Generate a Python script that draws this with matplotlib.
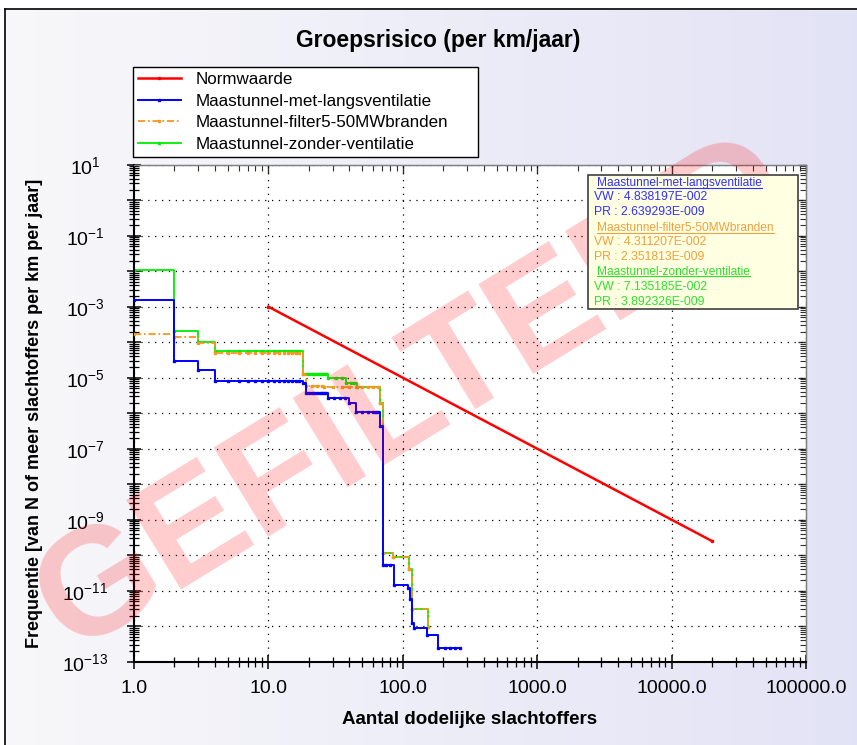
import numpy as np
import matplotlib
matplotlib.use('Agg')
import matplotlib.pyplot as plt
from matplotlib import ticker
from matplotlib.lines import Line2D
from matplotlib.patches import Rectangle

plt.rcParams['font.family'] = ['Liberation Sans', 'DejaVu Sans']
plt.rcParams['mathtext.fontset'] = 'custom'
plt.rcParams['mathtext.rm'] = 'Liberation Sans'
plt.rcParams['mathtext.it'] = 'Liberation Sans:italic'
plt.rcParams['mathtext.bf'] = 'Liberation Sans:bold'

# --- data (aantal slachtoffers N, frequentie F(N)) ---
norm_n = [10, 20000]
norm_f = [1.0e-3, 2.5e-10]

met_n = [1, 2, 3, 4, 5, 6, 7, 8, 9, 10, 11, 12, 13, 14, 15, 16, 17, 18,
         19, 20, 21, 22, 23, 24, 25, 26, 27, 28, 31, 34, 37, 40, 45, 50,
         55, 60, 63, 65, 68, 71, 75, 80, 86, 110, 113, 117, 121, 152, 183,
         206, 224, 244, 266]
met_f = [1.55e-3, 2.9e-5, 1.6e-5, 8.3e-6, 8.3e-6, 8.3e-6, 8.3e-6, 8.3e-6,
         8.3e-6, 8.3e-6, 8.3e-6, 8.3e-6, 8.3e-6, 8.3e-6, 8.3e-6, 8.3e-6,
         8.3e-6, 6.9e-6, 3.8e-6, 3.8e-6, 3.8e-6, 3.8e-6, 3.8e-6, 3.8e-6,
         3.8e-6, 3.8e-6, 3.8e-6, 2.6e-6, 2.6e-6, 2.6e-6, 2.6e-6, 2.0e-6,
         1.07e-6, 1.07e-6, 1.07e-6, 1.07e-6, 1.07e-6, 1.07e-6, 4.5e-7,
         5.2e-11, 5.2e-11, 5.2e-11, 1.44e-11, 1.17e-11, 5.9e-12, 1.2e-12,
         8.7e-13, 5.6e-13, 2.4e-13, 2.4e-13, 2.4e-13, 2.4e-13, 2.4e-13]

filter_n = [1, 2, 3, 4, 5, 6, 7, 8, 9, 10, 11, 12, 13, 14, 15, 16, 17, 18,
            19, 21, 23, 25, 26, 30, 35, 40, 45, 50, 55, 60, 65, 68, 71, 85,
            111, 117, 155]
filter_f = [1.65e-4, 1.4e-4, 9.5e-5, 5.0e-5, 5.0e-5, 5.0e-5, 5.0e-5, 5.0e-5,
            5.0e-5, 5.0e-5, 5.0e-5, 5.0e-5, 5.0e-5, 5.0e-5, 5.0e-5, 5.0e-5,
            5.0e-5, 1.3e-5, 5.9e-6, 5.9e-6, 5.9e-6, 5.9e-6, 5.6e-6, 5.6e-6,
            5.6e-6, 5.6e-6, 5.6e-6, 5.6e-6, 5.6e-6, 5.6e-6, 5.6e-6, 2.0e-6,
            1.17e-10, 9.1e-11, 4.1e-11, 3.0e-12, 9.7e-13]

zonder_n = [1, 2, 3, 4, 5, 6, 7, 8, 9, 10, 11, 12, 13, 14, 15, 16, 17, 18,
            19, 20, 21, 22, 23, 24, 25, 26, 27, 28, 32, 35, 38, 41, 43, 46,
            68, 71, 85, 111, 117, 155]
zonder_f = [1.07e-2, 2.1e-4, 1.0e-4, 5.8e-5, 5.8e-5, 5.8e-5, 5.8e-5, 5.8e-5,
            5.8e-5, 5.8e-5, 5.8e-5, 5.8e-5, 5.8e-5, 5.8e-5, 5.8e-5, 5.8e-5,
            5.8e-5, 1.3e-5, 1.3e-5, 1.3e-5, 1.3e-5, 1.3e-5, 1.3e-5, 1.3e-5,
            1.3e-5, 1.3e-5, 1.3e-5, 9.5e-6, 9.5e-6, 9.5e-6, 7.2e-6, 7.2e-6,
            7.2e-6, 5.6e-6, 2.0e-6, 1.17e-10, 9.1e-11, 4.1e-11, 3.0e-12,
            9.7e-13]

labels = ['Normwaarde', 'Maastunnel-met-langsventilatie',
          'Maastunnel-filter5-50MWbranden', 'Maastunnel-zonder-ventilatie']
info_lines = [
    ('Maastunnel-met-langsventilatie', 'VW : 4.838197E-002', 'PR : 2.639293E-009'),
    ('Maastunnel-filter5-50MWbranden', 'VW : 4.311207E-002', 'PR : 2.351813E-009'),
    ('Maastunnel-zonder-ventilatie', 'VW : 7.135185E-002', 'PR : 3.892326E-009'),
]
info_colors = ['#3030ff', '#f0a040', '#2ee02e']

W, H = 857, 745
fig = plt.figure(figsize=(W / 100, H / 100), dpi=100)

# achtergrond met verloop
bg = fig.add_axes([0, 0, 1, 1], zorder=-10)
grad = np.linspace(0, 1, 256)[None, :]
c0 = np.array([0.972, 0.972, 0.980])
c1 = np.array([0.890, 0.890, 0.965])
img = c0[None, None, :] * (1 - grad[..., None]) + c1[None, None, :] * grad[..., None]
bg.imshow(img, extent=[0, 1, 0, 1], aspect='auto')
bg.add_patch(Rectangle((0, 1 - 9 / H), 1, 9 / H, color='white'))
bg.add_patch(Rectangle((0, 0), 5 / W, 1, color='white'))
bg.plot([5 / W, 1], [1 - 9 / H, 1 - 9 / H], color='black', lw=1.2)
bg.plot([5 / W, 5 / W], [0, 1 - 9 / H], color='black', lw=1.2)
bg.set_xlim(0, 1)
bg.set_ylim(0, 1)
bg.axis('off')

left, right, top, bottom = 134, 806, 164.7, 661.7
ax = fig.add_axes([left / W, 1 - bottom / H, (right - left) / W, (bottom - top) / H])
ax.set_facecolor('white')

ax.plot(zonder_n, zonder_f, drawstyle='steps-post', color='#00ee00', lw=1.3,
        marker='s', ms=1.8, label=labels[3], zorder=2)
ax.plot(filter_n, filter_f, drawstyle='steps-post', color='#f39a1e', lw=1.3,
        ls=(0, (4, 1.5, 1, 1.5)), marker='s', ms=1.8, label=labels[2], zorder=3)
ax.plot(met_n, met_f, drawstyle='steps-post', color='#0000ff', lw=1.4,
        marker='s', ms=1.8, label=labels[1], zorder=4)
ax.plot(norm_n, norm_f, color='#ff0000', lw=1.8, marker='s', ms=1.8,
        label=labels[0], zorder=5)

ax.set_xscale('log')
ax.set_yscale('log')
ax.set_xlim(1, 1e5)
ax.set_ylim(1e-13, 1e1)

ax.xaxis.set_major_locator(ticker.LogLocator(base=10, numticks=20))
ax.xaxis.set_minor_locator(ticker.LogLocator(base=10, subs=range(2, 10), numticks=100))
ax.yaxis.set_major_locator(ticker.LogLocator(base=10, numticks=30))
ax.yaxis.set_minor_locator(ticker.LogLocator(base=10, subs=range(2, 10), numticks=200))
ax.xaxis.set_major_formatter(ticker.FuncFormatter(lambda v, p: f'{v:.1f}'))
ax.xaxis.set_minor_formatter(ticker.NullFormatter())


def ylab(v, p):
    e = int(round(np.log10(v)))
    if e % 2 == 0:
        return ''
    return r'$\mathregular{10^{%d}}$' % e


ax.yaxis.set_major_formatter(ticker.FuncFormatter(ylab))
ax.yaxis.set_minor_formatter(ticker.NullFormatter())

ax.grid(True, which='major', color='black', ls=(0, (1, 4.5)), lw=0.9)
ax.tick_params(which='major', direction='inout', length=10, width=1.1,
               top=False, right=False, labelsize=14)
ax.tick_params(which='minor', direction='inout', length=7, width=0.9,
               top=False, right=False)
ax.tick_params(axis='x', which='major', pad=8)
ax.tick_params(axis='y', which='major', pad=30)
for t in ax.get_yticklabels():
    t.set_horizontalalignment('center')

for s in ['left', 'bottom']:
    ax.spines[s].set_linewidth(1.5)
    ax.spines[s].set_color('black')
for s in ['top', 'right']:
    ax.spines[s].set_linewidth(1.0)
    ax.spines[s].set_color('#808080')

# ticks aan boven- en rechterkant, naar binnen
sx = ax.secondary_xaxis('top')
sy = ax.secondary_yaxis('right')
for sec, axis in [(sx, sx.xaxis), (sy, sy.yaxis)]:
    axis.set_major_locator(ticker.LogLocator(base=10, numticks=30))
    axis.set_minor_locator(ticker.LogLocator(base=10, subs=range(2, 10), numticks=200))
    axis.set_major_formatter(ticker.NullFormatter())
    axis.set_minor_formatter(ticker.NullFormatter())
    sec.tick_params(which='major', direction='in', length=6, width=1, color='#303030')
    sec.tick_params(which='minor', direction='in', length=4, width=0.8, color='#303030')
sx.spines['top'].set_color('#808080')
sy.spines['right'].set_color('#808080')

ax.set_xlabel('Aantal dodelijke slachtoffers', fontsize=13.5, fontweight='bold', va='center')
ax.xaxis.set_label_coords(0.5, -(720 - bottom) / (bottom - top))
ax.set_ylabel('Frequentie [van N of meer slachtoffers per km per jaar]',
              fontsize=13, fontweight='bold', va='center')
ax.yaxis.set_label_coords(-(left - 35) / (right - left), 0.5)

fig.text(438 / W, 1 - 40 / H, 'Groepsrisico (per km/jaar)', fontsize=16.5,
         fontweight='bold', ha='center', va='center')

# legenda
handles, labs = ax.get_legend_handles_labels()
order = [labs.index(l) for l in labels]
leg = fig.legend([handles[i] for i in order], [labs[i] for i in order],
                 loc='upper left', mode='expand',
                 bbox_to_anchor=(133 / W, 1 - 155 / H, (478 - 133) / W, (155 - 67) / H),
                 borderaxespad=0, fontsize=12.25, numpoints=1, handlelength=2.5,
                 handletextpad=0.9, labelspacing=0.38, borderpad=0.3,
                 fancybox=False, framealpha=1, edgecolor='black')
leg.get_frame().set_linewidth(1.0)

# watermerk
fig.text(415 / W, 1 - 397 / H, 'GEFILTERD', fontsize=110, fontweight='bold',
         color='red', alpha=0.2, ha='center', va='center', rotation=31.5,
         rotation_mode='anchor', zorder=2)

# info blok
fig.add_artist(Rectangle((588 / W, 1 - 309 / H), (798 - 588) / W, (309 - 175) / H,
                         transform=fig.transFigure, facecolor='#ffffe1',
                         edgecolor='#404040', lw=1.2, zorder=3))
ys = [183.3, 197.3, 211.7, 228.3, 241.7, 257.3, 271.7, 286.7, 301.7]
heads = []
for i, (name, vw, pr) in enumerate(info_lines):
    c = info_colors[i]
    t = fig.text(597 / W, 1 - ys[3 * i] / H, name, color=c, fontsize=8.6,
                 va='center', ha='left', zorder=4)
    heads.append(t)
    fig.text(594 / W, 1 - ys[3 * i + 1] / H, vw, color=c, fontsize=8.8,
             va='center', ha='left', zorder=4)
    fig.text(594 / W, 1 - ys[3 * i + 2] / H, pr, color=c, fontsize=8.8,
             va='center', ha='left', zorder=4)

fig.canvas.draw()
r = fig.canvas.get_renderer()
for t in heads:
    bb = t.get_window_extent(r).transformed(fig.transFigure.inverted())
    fig.add_artist(Line2D([bb.x0, bb.x1], [bb.y0 + 1.5 / H, bb.y0 + 1.5 / H],
                          transform=fig.transFigure, color=t.get_color(),
                          lw=0.8, zorder=4))

fig.savefig('out.png', dpi=100)
